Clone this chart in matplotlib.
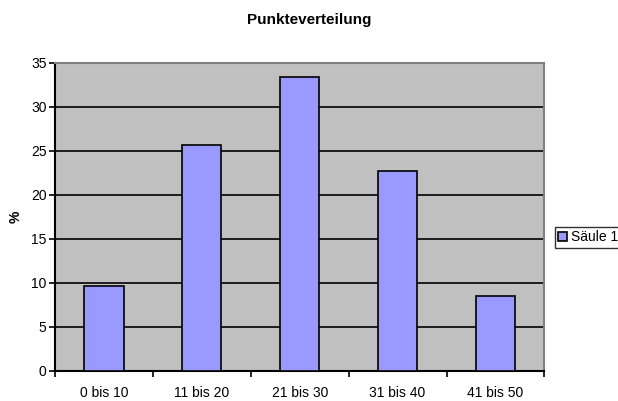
import matplotlib
matplotlib.use('Agg')

import matplotlib.pyplot as plt
import numpy as np

plt.rcParams['font.family'] = ['Liberation Sans', 'DejaVu Sans']

# Data
categories = ['0 bis 10', '11 bis 20', '21 bis 30', '31 bis 40', '41 bis 50']
values = [9.7, 25.65, 33.4, 22.7, 8.55]
yticks = [0, 5, 10, 15, 20, 25, 30, 35]

fig = plt.figure(figsize=(6.18, 4.01), dpi=100)
ax = fig.add_axes([0.089, 0.075, 0.792, 0.768])
ax.set_facecolor('#C0C0C0')

x = np.arange(len(categories))
bars = ax.bar(x, values, width=0.4, color='#9999FF', edgecolor='black',
              linewidth=1.2, label='Säule 1', zorder=3)

# Grid
ax.set_ylim(0, 35)
ax.set_xlim(-0.5, len(categories) - 0.5)
ax.set_yticks(yticks)
for y in yticks[1:-1]:
    ax.axhline(y, color='black', linewidth=1.2, zorder=2)

# X ticks: labels at centres, marks between categories
ax.set_xticks(x)
ax.set_xticklabels(categories, fontsize=10)
ax.tick_params(axis='x', which='major', length=0, pad=11)
ax.set_xticks(np.arange(-0.5, len(categories)), minor=True)
ax.tick_params(axis='x', which='minor', length=4, width=1.2, direction='out')
ax.tick_params(axis='y', length=4, width=1.2, direction='out', labelsize=10, pad=2)

# Spines
ax.spines['left'].set_color('black')
ax.spines['left'].set_linewidth(1.5)
ax.spines['bottom'].set_color('black')
ax.spines['bottom'].set_linewidth(1.5)
ax.spines['top'].set_color('#808080')
ax.spines['top'].set_linewidth(1.5)
ax.spines['right'].set_color('#808080')
ax.spines['right'].set_linewidth(1.5)

# Title centred on the whole figure
fig.text(0.5, 0.95, 'Punkteverteilung', fontsize=11, fontweight='bold',
         ha='center', va='center')
ax.set_ylabel('%', fontsize=10, fontweight='bold', labelpad=6)

leg = fig.legend(handles=[bars], labels=['Säule 1'], loc='center left',
                 bbox_to_anchor=(0.898, 0.408), fontsize=10, frameon=True,
                 fancybox=False, edgecolor='black', handlelength=0.6,
                 handleheight=0.6, handletextpad=0.3, borderpad=0.25,
                 borderaxespad=0)
leg.get_frame().set_linewidth(1.0)

fig.savefig('out.png', dpi=100)
